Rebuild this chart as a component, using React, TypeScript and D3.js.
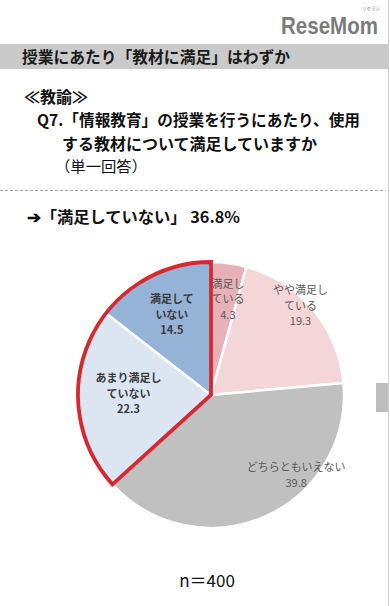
import React, { useEffect, useRef } from "react";
import * as d3 from "d3";

// survey answers, clockwise from 12 o'clock
const categories = ["満足している", "やや満足している", "どちらともいえない", "あまり満足していない", "満足していない"];
const values = [4.3, 19.3, 39.8, 22.3, 14.5];
const labelLines = [["満足し", "ている"], ["やや満足し", "ている"], ["どちらともいえない"], ["あまり満足し", "ていない"], ["満足して", "いない"]];
const colors = ["#e7b1b7", "#f5d6d8", "#c0c0c0", "#dce6f2", "#95b3d7"];
const dissatisfied = ["あまり満足していない", "満足していない"];
const dissatisfiedShare = 36.8;
const sampleSize = 400;

const FONT = "'Noto Sans CJK JP', 'Noto Sans', sans-serif";

export default function App() {
  const ref = useRef<SVGSVGElement>(null);

  useEffect(() => {
    const svg = d3.select(ref.current);
    svg.selectAll("*").remove();

    var height = 606;
    var cx = 211;
    var cy = 395;
    var radius = 133;

    // logo
    svg.append("text").attr("x", 378).attr("y", 34).attr("text-anchor", "end")
      .attr("textLength", 97).attr("lengthAdjust", "spacingAndGlyphs")
      .style("font-family", "'Liberation Sans', Arial, sans-serif").style("font-weight", "bold")
      .style("font-size", "23px").attr("fill", "#7b7b7b").text("ReseMom");
    svg.append("text").attr("x", 371).attr("y", 10).attr("text-anchor", "middle")
      .style("font-family", FONT).style("font-size", "4.5px").attr("fill", "#888").text("リセマム");

    // right edge rule + little grey tab
    svg.append("line").attr("x1", 388.5).attr("x2", 388.5).attr("y1", 0).attr("y2", height)
      .attr("stroke", "#cfcfcf").attr("stroke-width", 1);
    svg.append("rect").attr("x", 376).attr("y", 383).attr("width", 12).attr("height", 29).attr("fill", "#bdbdbd");

    // header band
    svg.append("rect").attr("x", 0).attr("y", 44).attr("width", 388).attr("height", 25).attr("fill", "#cacaca");
    svg.append("text").attr("x", 22).attr("y", 63)
      .attr("textLength", 268).attr("lengthAdjust", "spacingAndGlyphs")
      .style("font-family", FONT).style("font-weight", "bold").style("font-size", "16px").attr("fill", "#1a1a1a")
      .text("授業にあたり「教材に満足」はわずか");

    // question block
    const q = svg.append("g").style("font-family", FONT).attr("fill", "#111");
    q.append("text").attr("x", 24).attr("y", 103).style("font-weight", "bold").style("font-size", "16px").text("≪教諭≫");
    q.append("text").attr("x", 37).attr("y", 126).style("font-weight", "bold").style("font-size", "16px")
      .attr("textLength", 323).attr("lengthAdjust", "spacingAndGlyphs")
      .text("Q7.「情報教育」の授業を行うにあたり、使用");
    q.append("text").attr("x", 62).attr("y", 150).style("font-weight", "bold").style("font-size", "16px")
      .text("する教材について満足していますか");
    q.append("text").attr("x", 55).attr("y", 172).style("font-size", "15px")
      .attr("textLength", 92).attr("lengthAdjust", "spacingAndGlyphs").text("（単一回答）");

    svg.append("line").attr("x1", 0).attr("x2", 386).attr("y1", 190.5).attr("y2", 190.5)
      .attr("stroke", "#aaa").attr("stroke-dasharray", "3,2");

    svg.append("text").attr("x", 27).attr("y", 223)
      .attr("textLength", 213).attr("lengthAdjust", "spacingAndGlyphs")
      .style("font-family", FONT).style("font-weight", "bold").style("font-size", "15.5px").attr("fill", "#111")
      .text("➔「" + dissatisfied[1] + "」 " + dissatisfiedShare.toFixed(1) + "%");

    // pie
    const g = svg.append("g").attr("transform", "translate(" + cx + "," + cy + ")");
    const pie = d3.pie<number>().sort(null).value((d) => d);
    const arcs = pie(values);
    const arc = d3.arc<d3.PieArcDatum<number>>().innerRadius(0).outerRadius(radius);

    g.selectAll("path.slice").data(arcs).enter().append("path")
      .attr("class", "slice")
      .attr("d", arc)
      .attr("fill", (d, i) => colors[i])
      .attr("stroke", "white").attr("stroke-width", 2.5);

    // red outline around the "not satisfied" group
    const idx = dissatisfied.map((c) => categories.indexOf(c));
    const grp = {
      startAngle: d3.min(idx, (i) => arcs[i].startAngle) as number,
      endAngle: d3.max(idx, (i) => arcs[i].endAngle) as number,
      padAngle: 0, value: 0, data: 0, index: 0,
    };
    g.append("path").attr("d", arc(grp as any))
      .attr("fill", "none").attr("stroke", "#d42a2f").attr("stroke-width", 3.8).attr("stroke-linejoin", "miter");

    // label placement: radius factor and angle shift (deg) from slice middle
    const labelPlace = [[0.73, 2.3], [0.95, -5], [0.88, -23], [0.62, 3], [0.67, 0]];
    const lineH = 15.5;
    arcs.forEach((d, i) => {
      const mid = (d.startAngle + d.endAngle) / 2 + (labelPlace[i][1] * Math.PI) / 180;
      const r = radius * labelPlace[i][0];
      const x = Math.sin(mid) * r;
      const y = -Math.cos(mid) * r;
      const lines = labelLines[i].concat([values[i].toFixed(1)]);
      const bold = dissatisfied.indexOf(categories[i]) >= 0;
      const t = g.append("text").attr("text-anchor", "middle")
        .style("font-family", FONT).style("font-size", "11px")
        .style("font-weight", bold ? "bold" : "normal")
        .attr("fill", bold ? "#3a3a3a" : "#5a5a5a");
      lines.forEach((ln, j) => {
        t.append("tspan").attr("x", x)
          .attr("y", y + (j - (lines.length - 1) / 2) * lineH + 4)
          .text(ln);
      });
    });

    svg.append("text").attr("x", 207).attr("y", 587).attr("text-anchor", "middle")
      .style("font-family", FONT).style("font-size", "17px").attr("fill", "#111")
      .text("n＝" + sampleSize);
  }, []);

  return (
    <svg ref={ref} width={390} height={606}
      style={{ position: "absolute", left: 0, top: 0, background: "white" }} />
  );
}
